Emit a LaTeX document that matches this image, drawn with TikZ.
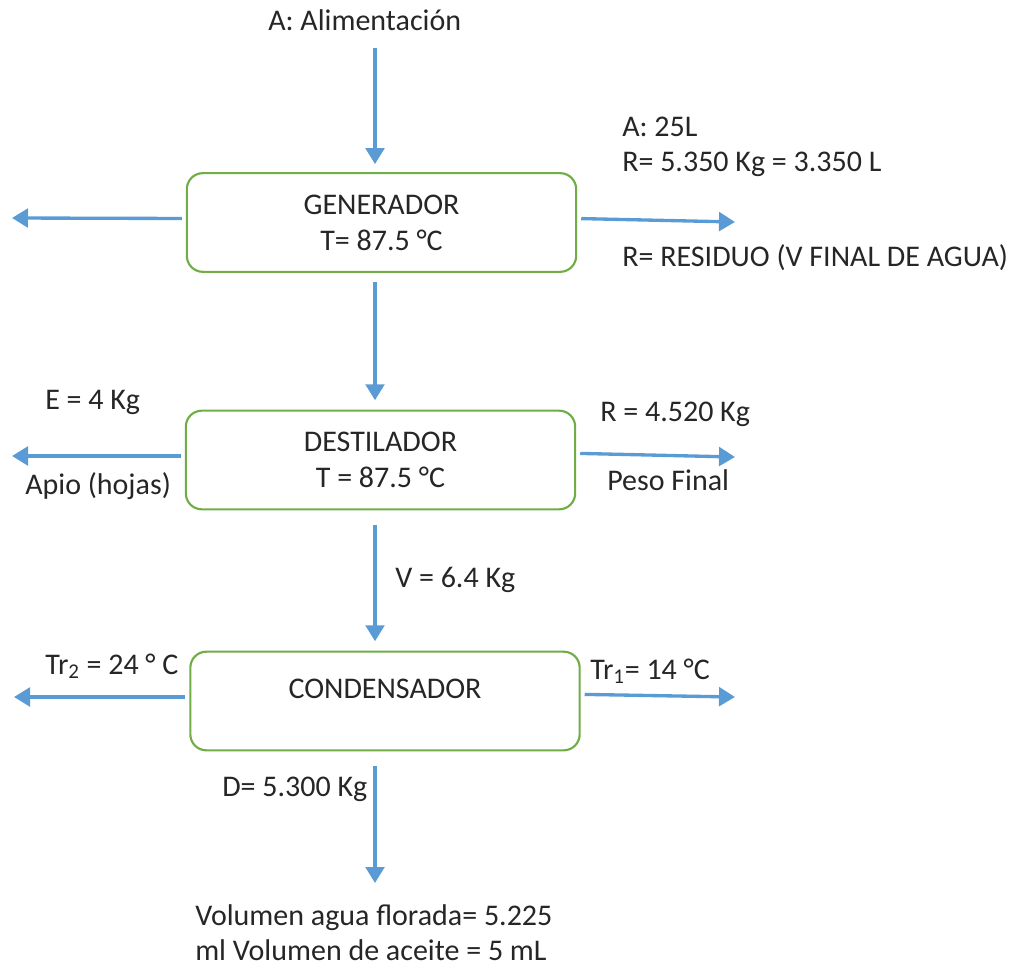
\documentclass[tikz,border=0pt]{standalone}
\usepackage{fontspec}
\setmainfont{Carlito}
\usetikzlibrary{arrows.meta}
\definecolor{flowblue}{HTML}{5B9BD5}
\definecolor{unitgreen}{HTML}{70AD47}
\definecolor{inktext}{HTML}{262626}

\begin{document}
\begin{tikzpicture}[x=0.75pt, y=-0.75pt,
    every node/.style={font=\fontsize{22.5}{27}\selectfont, text=inktext},
    flow/.style={-{Triangle[width=14pt,length=12pt]}, flowblue, line width=2.5pt},
    unit/.style={draw=unitgreen, line width=1.6pt, rounded corners=12pt,
        minimum width=292pt, minimum height=74pt, align=center, inner sep=0pt},
    lbl/.style={anchor=base west, inner sep=0pt}]
    \useasboundingbox (0,0) rectangle (1014,970);

    % the three units
    \node[unit] (gen) at (381.5,222.5) {GENERADOR\\T= 87.5 °C};
    \node[unit] (dest) at (380.5,460) {DESTILADOR\\T = 87.5 °C};
    \node[unit, text depth=19pt] (cond) at (385,701) {CONDENSADOR};

    % free ends of the streams
    \coordinate (feed) at (375,48);
    \coordinate (genL) at (12,218);
    \coordinate (genR) at (735,222);
    \coordinate (destL) at (12,456);
    \coordinate (destR) at (735,457);
    \coordinate (condL) at (14,697);
    \coordinate (condR) at (735,697);
    \coordinate (prod) at (375,883);

    % streams
    \draw[flow, shorten >=6pt] (feed) -- (gen.north -| feed);
    \draw[flow, shorten <=3pt] ([yshift=3pt]gen.west) -- (genL);
    \draw[flow, shorten <=3pt] ([yshift=3pt]gen.east) -- (genR);
    \draw[flow, shorten <=7pt, shorten >=7pt] (gen.south -| feed) -- (dest.north -| feed);
    \draw[flow, shorten <=3pt] ([yshift=3pt]dest.west) -- (destL);
    \draw[flow, shorten <=3pt] ([yshift=5pt]dest.east) -- (destR);
    \draw[flow, shorten <=11pt, shorten >=7pt] (dest.south -| feed) -- (cond.north -| feed);
    \draw[flow, shorten <=3pt] ([yshift=3pt]cond.west) -- (condL);
    \draw[flow, shorten <=3pt] ([yshift=5pt]cond.east) -- (condR);
    \draw[flow, shorten <=11pt] (cond.south -| feed) -- (prod);

    % labels
    \node[lbl] (lfeed) at (268,31) {A: Alimentación};
    \node[lbl] (lvol) at (622,137) {A: 25L};
    \node[lbl] (lres) at (622,172) {R= 5.350 Kg = 3.350 L};
    \node[lbl] (lresname) at (622,266) {R= RESIDUO (V FINAL DE AGUA)};
    \node[lbl] (lext) at (45,409) {E = 4 Kg};
    \node[lbl] (lapio) at (25,494) {Apio (hojas)};
    \node[lbl] (lrdest) at (600,421) {R = 4.520 Kg};
    \node[lbl] (lpeso) at (607,490) {Peso Final};
    \node[lbl] (lvap) at (395,587) {V = 6.4 Kg};
    \node[lbl] (ltrtwo) at (45,674) {Tr\textsubscript{2} = 24 ° C};
    \node[lbl] (ltrone) at (590,679) {Tr\textsubscript{1}= 14 °C};
    \node[lbl] (ldest) at (222,796) {D= 5.300 Kg};
    \node[lbl] (lflor) at (195,925) {Volumen agua florada= 5.225};
    \node[lbl] (laceite) at (195,960) {ml Volumen de aceite = 5 mL};
\end{tikzpicture}
\end{document}
